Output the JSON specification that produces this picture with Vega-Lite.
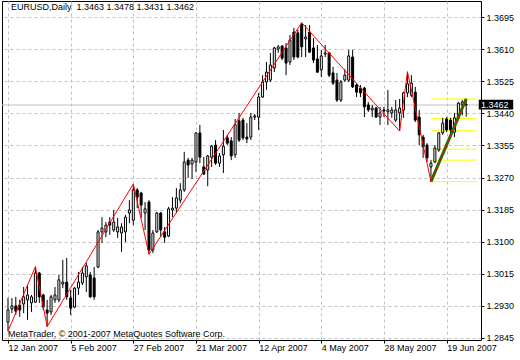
{
  "$schema": "https://vega.github.io/schema/vega-lite/v6.json",
  "width": 479,
  "height": 339,
  "autosize": {"type": "none"},
  "padding": {"left": 2, "top": 1, "right": 39, "bottom": 20},
  "background": "white",
  "view": {"stroke": "black", "strokeWidth": 1, "fill": "white"},
  "config": {
    "font": "Liberation Sans",
    "axis": {"labelFont": "Liberation Sans", "labelFontSize": 9, "labelColor": "black", "domain": false, "grid": true, "gridColor": "#c0c0c0", "gridDash": [3, 3], "gridWidth": 1, "tickColor": "black", "tickSize": 3, "title": null}
  },
  "datasets": {
    "bars": [
      {"i":0,"o":1.2887,"h":1.2951,"l":1.2863,"c":1.2919},
      {"i":1,"o":1.2922,"h":1.2951,"l":1.2911,"c":1.2930},
      {"i":2,"o":1.2930,"h":1.2954,"l":1.2906,"c":1.2916},
      {"i":3,"o":1.2932,"h":1.2946,"l":1.2901,"c":1.2919},
      {"i":4,"o":1.2935,"h":1.2980,"l":1.2911,"c":1.2954},
      {"i":5,"o":1.2946,"h":1.2985,"l":1.2893,"c":1.2959},
      {"i":6,"o":1.2938,"h":1.2959,"l":1.2914,"c":1.2954},
      {"i":7,"o":1.2940,"h":1.3034,"l":1.2938,"c":1.3017},
      {"i":8,"o":1.3017,"h":1.3020,"l":1.2938,"c":1.2954},
      {"i":9,"o":1.2959,"h":1.2962,"l":1.2919,"c":1.2927},
      {"i":10,"o":1.2919,"h":1.2946,"l":1.2875,"c":1.2911},
      {"i":11,"o":1.2914,"h":1.2959,"l":1.2906,"c":1.2954},
      {"i":12,"o":1.2946,"h":1.2980,"l":1.2938,"c":1.2959},
      {"i":13,"o":1.2946,"h":1.3012,"l":1.2940,"c":1.2999},
      {"i":14,"o":1.2988,"h":1.3052,"l":1.2977,"c":1.2993},
      {"i":15,"o":1.2993,"h":1.3057,"l":1.2946,"c":1.2954},
      {"i":16,"o":1.2951,"h":1.2972,"l":1.2906,"c":1.2924},
      {"i":17,"o":1.2927,"h":1.2980,"l":1.2924,"c":1.2977},
      {"i":18,"o":1.2977,"h":1.3020,"l":1.2959,"c":1.2993},
      {"i":19,"o":1.2991,"h":1.3033,"l":1.2985,"c":1.3017},
      {"i":20,"o":1.3007,"h":1.3044,"l":1.2967,"c":1.3036},
      {"i":21,"o":1.3012,"h":1.3020,"l":1.2951,"c":1.2954},
      {"i":22,"o":1.3004,"h":1.3033,"l":1.2946,"c":1.2954},
      {"i":23,"o":1.3033,"h":1.3131,"l":1.3030,"c":1.3126},
      {"i":24,"o":1.3126,"h":1.3165,"l":1.3097,"c":1.3136},
      {"i":25,"o":1.3126,"h":1.3152,"l":1.3112,"c":1.3144},
      {"i":26,"o":1.3152,"h":1.3165,"l":1.3118,"c":1.3144},
      {"i":27,"o":1.3131,"h":1.3184,"l":1.3126,"c":1.3152},
      {"i":28,"o":1.3126,"h":1.3163,"l":1.3110,"c":1.3139},
      {"i":29,"o":1.3123,"h":1.3149,"l":1.3073,"c":1.3139},
      {"i":30,"o":1.3126,"h":1.3171,"l":1.3099,"c":1.3165},
      {"i":31,"o":1.3176,"h":1.3210,"l":1.3149,"c":1.3184},
      {"i":32,"o":1.3157,"h":1.3253,"l":1.3144,"c":1.3237},
      {"i":33,"o":1.3237,"h":1.3242,"l":1.3189,"c":1.3218},
      {"i":34,"o":1.3229,"h":1.3232,"l":1.3163,"c":1.3197},
      {"i":35,"o":1.3176,"h":1.3205,"l":1.3131,"c":1.3187},
      {"i":36,"o":1.3205,"h":1.3210,"l":1.3067,"c":1.3078},
      {"i":37,"o":1.3078,"h":1.3131,"l":1.3070,"c":1.3123},
      {"i":38,"o":1.3126,"h":1.3179,"l":1.3123,"c":1.3176},
      {"i":39,"o":1.3176,"h":1.3179,"l":1.3112,"c":1.3131},
      {"i":40,"o":1.3126,"h":1.3139,"l":1.3097,"c":1.3112},
      {"i":41,"o":1.3115,"h":1.3192,"l":1.3112,"c":1.3187},
      {"i":42,"o":1.3184,"h":1.3218,"l":1.3165,"c":1.3189},
      {"i":43,"o":1.3189,"h":1.3242,"l":1.3176,"c":1.3216},
      {"i":44,"o":1.3210,"h":1.3255,"l":1.3202,"c":1.3237},
      {"i":45,"o":1.3237,"h":1.3338,"l":1.3232,"c":1.3311},
      {"i":46,"o":1.3316,"h":1.3322,"l":1.3269,"c":1.3303},
      {"i":47,"o":1.3306,"h":1.3322,"l":1.3266,"c":1.3316},
      {"i":48,"o":1.3311,"h":1.3390,"l":1.3285,"c":1.3388},
      {"i":49,"o":1.3388,"h":1.3409,"l":1.3308,"c":1.3324},
      {"i":50,"o":1.3298,"h":1.3324,"l":1.3277,"c":1.3279},
      {"i":51,"o":1.3290,"h":1.3330,"l":1.3247,"c":1.3327},
      {"i":52,"o":1.3324,"h":1.3356,"l":1.3298,"c":1.3353},
      {"i":53,"o":1.3356,"h":1.3369,"l":1.3303,"c":1.3308},
      {"i":54,"o":1.3308,"h":1.3335,"l":1.3298,"c":1.3327},
      {"i":55,"o":1.3330,"h":1.3396,"l":1.3282,"c":1.3353},
      {"i":56,"o":1.3375,"h":1.3383,"l":1.3356,"c":1.3361},
      {"i":57,"o":1.3367,"h":1.3377,"l":1.3316,"c":1.3327},
      {"i":58,"o":1.3330,"h":1.3425,"l":1.3322,"c":1.3410},
      {"i":59,"o":1.3420,"h":1.3441,"l":1.3364,"c":1.3369},
      {"i":60,"o":1.3422,"h":1.3428,"l":1.3369,"c":1.3375},
      {"i":61,"o":1.3377,"h":1.3414,"l":1.3361,"c":1.3372},
      {"i":62,"o":1.3377,"h":1.3441,"l":1.3369,"c":1.3430},
      {"i":63,"o":1.3430,"h":1.3438,"l":1.3422,"c":1.3433},
      {"i":64,"o":1.3430,"h":1.3494,"l":1.3396,"c":1.3483},
      {"i":65,"o":1.3483,"h":1.3541,"l":1.3481,"c":1.3523},
      {"i":66,"o":1.3523,"h":1.3576,"l":1.3502,"c":1.3549},
      {"i":67,"o":1.3528,"h":1.3600,"l":1.3523,"c":1.3568},
      {"i":68,"o":1.3560,"h":1.3616,"l":1.3549,"c":1.3613},
      {"i":69,"o":1.3610,"h":1.3621,"l":1.3600,"c":1.3616},
      {"i":70,"o":1.3618,"h":1.3621,"l":1.3581,"c":1.3586},
      {"i":71,"o":1.3613,"h":1.3626,"l":1.3541,"c":1.3573},
      {"i":72,"o":1.3576,"h":1.3647,"l":1.3568,"c":1.3634},
      {"i":73,"o":1.3655,"h":1.3666,"l":1.3581,"c":1.3589},
      {"i":74,"o":1.3653,"h":1.3661,"l":1.3586,"c":1.3589},
      {"i":75,"o":1.3676,"h":1.3680,"l":1.3589,"c":1.3616},
      {"i":76,"o":1.3637,"h":1.3674,"l":1.3589,"c":1.3642},
      {"i":77,"o":1.3655,"h":1.3674,"l":1.3600,"c":1.3602},
      {"i":78,"o":1.3613,"h":1.3639,"l":1.3573,"c":1.3581},
      {"i":79,"o":1.3584,"h":1.3621,"l":1.3547,"c":1.3549},
      {"i":80,"o":1.3555,"h":1.3608,"l":1.3536,"c":1.3592},
      {"i":81,"o":1.3597,"h":1.3621,"l":1.3589,"c":1.3600},
      {"i":82,"o":1.3600,"h":1.3602,"l":1.3536,"c":1.3541},
      {"i":83,"o":1.3547,"h":1.3563,"l":1.3515,"c":1.3520},
      {"i":84,"o":1.3528,"h":1.3547,"l":1.3470,"c":1.3475},
      {"i":85,"o":1.3475,"h":1.3528,"l":1.3470,"c":1.3523},
      {"i":86,"o":1.3528,"h":1.3557,"l":1.3523,"c":1.3541},
      {"i":87,"o":1.3528,"h":1.3608,"l":1.3523,"c":1.3592},
      {"i":88,"o":1.3589,"h":1.3608,"l":1.3507,"c":1.3510},
      {"i":89,"o":1.3515,"h":1.3520,"l":1.3483,"c":1.3496},
      {"i":90,"o":1.3507,"h":1.3515,"l":1.3483,"c":1.3494},
      {"i":91,"o":1.3507,"h":1.3510,"l":1.3430,"c":1.3457},
      {"i":92,"o":1.3462,"h":1.3470,"l":1.3444,"c":1.3449},
      {"i":93,"o":1.3449,"h":1.3462,"l":1.3430,"c":1.3454},
      {"i":94,"o":1.3454,"h":1.3457,"l":1.3428,"c":1.3430},
      {"i":95,"o":1.3430,"h":1.3457,"l":1.3409,"c":1.3441},
      {"i":96,"o":1.3449,"h":1.3457,"l":1.3430,"c":1.3446},
      {"i":97,"o":1.3444,"h":1.3502,"l":1.3409,"c":1.3449},
      {"i":98,"o":1.3441,"h":1.3457,"l":1.3428,"c":1.3449},
      {"i":99,"o":1.3422,"h":1.3475,"l":1.3417,"c":1.3449},
      {"i":100,"o":1.3441,"h":1.3478,"l":1.3393,"c":1.3454},
      {"i":101,"o":1.3449,"h":1.3497,"l":1.3428,"c":1.3494},
      {"i":102,"o":1.3494,"h":1.3550,"l":1.3483,"c":1.3518},
      {"i":103,"o":1.3488,"h":1.3541,"l":1.3483,"c":1.3520},
      {"i":104,"o":1.3496,"h":1.3510,"l":1.3417,"c":1.3422},
      {"i":105,"o":1.3430,"h":1.3449,"l":1.3356,"c":1.3383},
      {"i":106,"o":1.3377,"h":1.3383,"l":1.3322,"c":1.3351},
      {"i":107,"o":1.3356,"h":1.3361,"l":1.3311,"c":1.3322},
      {"i":108,"o":1.3298,"h":1.3316,"l":1.3259,"c":1.3308},
      {"i":109,"o":1.3311,"h":1.3356,"l":1.3308,"c":1.3348},
      {"i":110,"o":1.3343,"h":1.3390,"l":1.3338,"c":1.3388},
      {"i":111,"o":1.3388,"h":1.3428,"l":1.3383,"c":1.3414},
      {"i":112,"o":1.3425,"h":1.3430,"l":1.3390,"c":1.3396},
      {"i":113,"o":1.3422,"h":1.3428,"l":1.3383,"c":1.3396},
      {"i":114,"o":1.3390,"h":1.3441,"l":1.3377,"c":1.3428},
      {"i":115,"o":1.3428,"h":1.3470,"l":1.3422,"c":1.3467},
      {"i":116,"o":1.3462,"h":1.3475,"l":1.3435,"c":1.3470},
      {"i":117,"o":1.3463,"h":1.3478,"l":1.3431,"c":1.3462}
    ],
    "zigzag": [
      {"i":0,"p":1.2863},{"i":7,"p":1.3034},{"i":10,"p":1.2875},{"i":32,"p":1.3253},
      {"i":36,"p":1.3067},{"i":75,"p":1.3680},{"i":100,"p":1.3393},{"i":102,"p":1.3550},
      {"i":108,"p":1.3259},{"i":117,"p":1.3478}
    ],
    "trend": [{"i":108,"p":1.3259},{"i":117,"p":1.3478}],
    "levels": [{"p":1.3478},{"p":1.3426},{"p":1.3394},{"p":1.3345},{"p":1.3316},{"p":1.3259}]
  },
  "layer": [
    {
      "data": {"values": [{}]},
      "mark": {"type": "rule", "color": "#c0c0c0", "strokeWidth": 1},
      "encoding": {"y": {"datum": 1.3462, "type": "quantitative", "scale": {"domain": [1.28397, 1.37374], "nice": false, "zero": false}}}
    },
    {
      "data": {"name": "levels"},
      "mark": {"type": "rule", "color": "#ffff00", "strokeWidth": 1},
      "encoding": {
        "y": {"field": "p", "type": "quantitative", "title": null},
        "x": {"datum": 108, "type": "quantitative"},
        "x2": {"datum": 119.5}
      }
    },
    {
      "data": {"name": "bars"},
      "mark": {"type": "rule", "color": "black", "strokeWidth": 1},
      "encoding": {
        "x": {
          "field": "i", "type": "quantitative", "title": null,
          "scale": {"domain": [-0.25, 119.5], "nice": false, "zero": false},
          "axis": {
            "orient": "bottom",
            "values": [0, 16, 32, 48, 64, 80, 96, 112],
            "tickCount": 50,
            "labelExpr": "['12 Jan 2007','5 Feb 2007','27 Feb 2007','21 Mar 2007','12 Apr 2007','4 May 2007','28 May 2007','19 Jun 2007'][round(datum.value/16)]",
            "labelAlign": "left", "labelBaseline": "top", "labelPadding": 0,
            "labelOverlap": false, "labelBound": false, "labelFlush": false
          }
        },
        "y": {
          "field": "l", "type": "quantitative", "title": null,
          "scale": {"domain": [1.28397, 1.37374], "nice": false, "zero": false},
          "axis": {
            "orient": "right",
            "values": [1.2845, 1.2930, 1.3015, 1.3100, 1.3185, 1.3270, 1.3355, 1.3440, 1.3525, 1.3610, 1.3695],
            "tickCount": 50,
            "format": ".4f", "labelAlign": "left", "labelBaseline": "middle", "labelPadding": 2,
            "labelOverlap": false, "labelBound": false, "labelFlush": false
          }
        },
        "y2": {"field": "h"}
      }
    },
    {
      "data": {"name": "bars"},
      "mark": {"type": "bar", "size": 2, "stroke": "black", "strokeWidth": 1},
      "encoding": {
        "x": {"field": "i", "type": "quantitative", "title": null},
        "y": {"field": "o", "type": "quantitative", "title": null},
        "y2": {"field": "c"},
        "fill": {"condition": {"test": "datum.c >= datum.o", "value": "white"}, "value": "black"}
      }
    },
    {
      "data": {"name": "trend"},
      "mark": {"type": "line", "color": "#008000", "strokeWidth": 3},
      "encoding": {
        "x": {"field": "i", "type": "quantitative", "title": null},
        "y": {"field": "p", "type": "quantitative", "title": null}
      }
    },
    {
      "data": {"name": "zigzag"},
      "mark": {"type": "line", "color": "#ff0000", "strokeWidth": 1},
      "encoding": {
        "x": {"field": "i", "type": "quantitative", "title": null},
        "y": {"field": "p", "type": "quantitative", "title": null}
      }
    },
    {
      "data": {"values": [{}]},
      "mark": {"type": "text", "text": "EURUSD,Daily\u00a0 1.3463 1.3478 1.3431 1.3462", "align": "left", "baseline": "top", "dx": 4, "dy": 2, "font": "Liberation Sans", "fontSize": 9, "color": "black"},
      "encoding": {"x": {"datum": -0.25, "type": "quantitative"}, "y": {"datum": 1.37374, "type": "quantitative"}}
    },
    {
      "data": {"values": [{}]},
      "mark": {"type": "text", "text": "MetaTrader, © 2001-2007 MetaQuotes Software Corp.", "align": "left", "baseline": "alphabetic", "dx": 1, "dy": -3, "font": "Liberation Sans", "fontSize": 9, "color": "black"},
      "encoding": {"x": {"datum": -0.25, "type": "quantitative"}, "y": {"datum": 1.28397, "type": "quantitative"}}
    },
    {
      "data": {"values": [{}]},
      "mark": {"type": "rect", "color": "black"},
      "encoding": {
        "x": {"datum": 120.2, "type": "quantitative"}, "x2": {"datum": 129},
        "y": {"datum": 1.3476, "type": "quantitative"}, "y2": {"datum": 1.3450}
      }
    },
    {
      "data": {"values": [{}]},
      "mark": {"type": "text", "text": "1.3462", "align": "left", "baseline": "middle", "dx": 1, "font": "Liberation Sans", "fontSize": 9, "color": "white"},
      "encoding": {"x": {"datum": 120.5, "type": "quantitative"}, "y": {"datum": 1.3463, "type": "quantitative"}}
    }
  ]
}
